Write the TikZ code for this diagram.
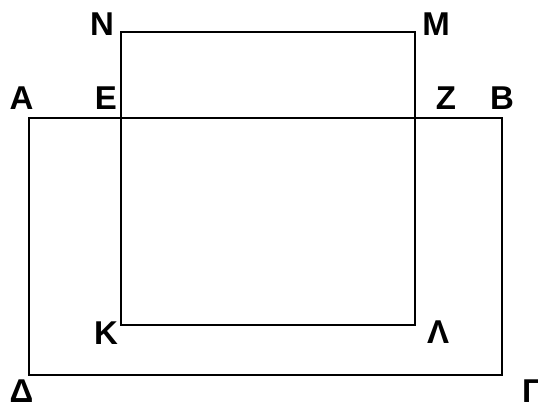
\documentclass[tikz,border=0pt]{standalone}
\usepackage{fontspec}
\setmainfont{Liberation Sans}
\begin{document}
\begin{tikzpicture}[x=1pt,y=-1pt,
  lbl/.style={font=\fontsize{33}{36}\selectfont\bfseries, inner sep=0pt, anchor=center},
  edge/.style={draw=black, line width=2pt}]
\useasboundingbox (0,0) rectangle (538,403);
% outer rectangle
\coordinate (A) at (29,118.3);
\coordinate (B) at (502.3,118.3);
\coordinate (G) at (502.3,375);
\coordinate (D) at (29,375);
% inner rectangle
\coordinate (N) at (121,32);
\coordinate (M) at (415.3,32);
\coordinate (L) at (415.3,325);
\coordinate (K) at (121,325);
\draw[edge] (A) -- (B) -- (G) -- (D) -- cycle;
\draw[edge] (N) -- (M) -- (L) -- (K) -- cycle;
% labels
\node[lbl] (lN) at (102,24) {Ν};
\node[lbl] (lM) at (436,24) {Μ};
\node[lbl] (lA) at (21.5,98.5) {Α};
\node[lbl] (lE) at (106,98.5) {Ε};
\node[lbl] (lZ) at (446,98.5) {Ζ};
\node[lbl] (lB) at (502,98.5) {Β};
\node[lbl] (lK) at (106,333) {Κ};
\node[lbl] (lL) at (438,332.5) {Λ};
\node[lbl] (lD) at (21.5,391.5) {Δ};
\node[lbl] (lG) at (532,391.5) {Γ};
\end{tikzpicture}
\end{document}
